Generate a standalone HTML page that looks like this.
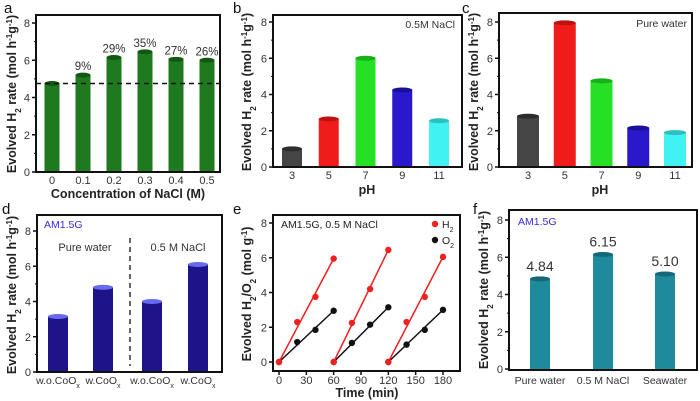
<!DOCTYPE html>
<html><head><meta charset="utf-8"><style>
body{margin:0;background:#fff;}
svg{display:block;font-family:"Liberation Sans",Arial,sans-serif;}
</style></head><body>
<svg id="fig" width="700" height="401" viewBox="0 0 700 401" xmlns="http://www.w3.org/2000/svg"></svg>
<script>
// ---- data ----
const aCats = ["0","0.1","0.2","0.3","0.4","0.5"];
const aVals = [4.75, 5.2, 6.15, 6.45, 6.05, 6.0];
const aPct = ["", "9%", "29%", "35%", "27%", "26%"];
const bCats = ["3","5","7","9","11"];
const bVals = [1.0, 2.65, 6.0, 4.25, 2.55];
const cCats = ["3","5","7","9","11"];
const cVals = [2.8, 7.95, 4.75, 2.15, 1.9];
const dCats = ["w.o.CoO","w.CoO","w.o.CoO","w.CoO"];
const dVals = [3.15, 4.8, 4.0, 6.1];
const fCats = ["Pure water","0.5 M NaCl","Seawater"];
const fVals = [4.84, 6.15, 5.10];
const fLabels = ["4.84","6.15","5.10"];
const eTimes = [0,20,40,60, 60,80,100,120, 120,140,160,180];
const eH2 = [0,2.3,3.75,5.95, 0,2.25,4.2,6.45, 0,2.3,3.75,6.05];
const eO2 = [0,1.15,1.85,2.95, 0,1.1,2.15,3.15, 0,1.0,1.85,3.0];
const yTicks = [0,2,4,6,8];
const eXTicks = [0,30,60,90,120,150,180];

const NS="http://www.w3.org/2000/svg";
const svg=document.getElementById('fig');
function mk(tag,attrs,parent){const e=document.createElementNS(NS,tag);for(const k in attrs)e.setAttribute(k,attrs[k]);(parent||svg).appendChild(e);return e;}
function lin(d0,d1,r0,r1){return v=>r0+(v-d0)*(r1-r0)/(d1-d0);}

function ytitle(g,x,y,gas){
  const t=mk('text',{x:0,y:0,'font-size':12.5,'font-weight':'bold',fill:'#222','text-anchor':'middle',transform:`translate(${x},${y}) rotate(-90)`},g);
  
  
  if(gas){t.innerHTML='Evolved H<tspan baseline-shift="sub" font-size="8">2</tspan>/O<tspan baseline-shift="sub" font-size="8">2</tspan> (mol g<tspan baseline-shift="super" font-size="8">-1</tspan>)';}
  else{t.innerHTML='Evolved H<tspan baseline-shift="sub" font-size="8">2</tspan> rate (mol h<tspan baseline-shift="super" font-size="8">-1</tspan>g<tspan baseline-shift="super" font-size="8">-1</tspan>)';}
}

function frame(g,L,R,T,B,y,name){
  const r=mk('rect',{x:L,y:T,width:R-L,height:B-T,fill:'none',stroke:'#111','stroke-width':2},g);
  
  
  yTicks.forEach(v=>{
    const py=y(v);
    const tk=mk('line',{x1:L-4,x2:L,y1:py,y2:py,stroke:'#111','stroke-width':1.5},g);
    
    
    if(v<8){const m=y(v+1);const mt=mk('line',{x1:L-2,x2:L,y1:m,y2:m,stroke:'#111','stroke-width':1},g);
    
    }
    const tl=mk('text',{x:L-6,y:py+4,'font-size':11,fill:'#333','text-anchor':'end'},g);
    tl.textContent=v;
    
    
  });
}

function cyl(g,cx,w,y,v,body,top,name){
  const y0=y(0),yt=y(v);
  const r=mk('rect',{x:cx-w/2,y:yt,width:w,height:y0-yt,fill:body},g);
  
  
  const e=mk('ellipse',{cx:cx,cy:yt,rx:w/2,ry:2.5,fill:top},g);
  
  
}

function xlabels(g,xs,cats,yy,size,name){
  cats.forEach((c,i)=>{
    const t=mk('text',{x:xs[i],y:yy,'font-size':size,fill:'#333','text-anchor':'middle'},g);
    t.textContent=c;
    
    
  });
}

function plabel(txt,x,y){
  const t=mk('text',{x:x,y:y,'font-size':15,fill:'#111'});
  t.textContent=txt;
  
  
}
function note(g,txt,x,y,size,fill,anchor,name){
  const t=mk('text',{x:x,y:y,'font-size':size,fill:fill,'text-anchor':anchor||'start'},g);
  t.textContent=txt;
  
  
  return t;
}

// ---- panel a ----
(function(){
  const g=mk('g',{});
  const L=36,R=220,T=15,B=172;const y=lin(0,8,172,23);
  const x=i=>52+i*31;
  aVals.forEach((v,i)=>cyl(g,x(i),15,y,v,'#1f7a1f','#0f5a10','bar-a-'+aCats[i]));
  const d=mk('line',{x1:L,x2:R,y1:y(aVals[0]),y2:y(aVals[0]),stroke:'#111','stroke-width':1.5,'stroke-dasharray':'5,4'},g);
  
  aPct.forEach((p,i)=>{if(p)note(g,p,x(i),y(aVals[i])-5,11.5,'#333','middle','percent-label');});
  frame(g,L,R,T,B,y,'panel-a');
  xlabels(g,aCats.map((c,i)=>x(i)),aCats,184,11,'x-tick-label');
  const xt=note(g,'Concentration of NaCl (M)',128,198,12.5,'#222','middle','x-axis-title');xt.setAttribute('font-weight','bold');
  ytitle(g,16,94,false);
  plabel('a',4,13);
})();

// ---- panel b ----
(function(){
  const g=mk('g',{});
  const L=273,R=462,T=15,B=167;const y=lin(0,8,167,22);
  const x=i=>292+i*36.75;
  const cols=[['#454545','#2c2c2c'],['#f01c1c','#c01010'],['#26e026','#18b018'],['#2a18cc','#1a0f99'],['#40f2f2','#2bc0c0']];
  bVals.forEach((v,i)=>cyl(g,x(i),20,y,v,cols[i][0],cols[i][1],'bar-b-ph'+bCats[i]));
  frame(g,L,R,T,B,y,'panel-b');
  xlabels(g,bCats.map((c,i)=>x(i)),bCats,179,11,'x-tick-label');
  const xt=note(g,'pH',367,194,12.5,'#222','middle','x-axis-title');xt.setAttribute('font-weight','bold');
  note(g,'0.5M NaCl',455,28,10.5,'#333','end','condition-label');
  ytitle(g,251,92,false);
  plabel('b',233,13);
})();

// ---- panel c ----
(function(){
  const g=mk('g',{});
  const L=499,R=692,T=13,B=167;const y=lin(0,8,167,22);
  const x=i=>528+i*36.75;
  const cols=[['#454545','#2c2c2c'],['#f01c1c','#c01010'],['#26e026','#18b018'],['#2a18cc','#1a0f99'],['#40f2f2','#2bc0c0']];
  cVals.forEach((v,i)=>cyl(g,x(i),22,y,v,cols[i][0],cols[i][1],'bar-c-ph'+cCats[i]));
  frame(g,L,R,T,B,y,'panel-c');
  xlabels(g,cCats.map((c,i)=>x(i)),cCats,179,11,'x-tick-label');
  const xt=note(g,'pH',600,194,12.5,'#222','middle','x-axis-title');xt.setAttribute('font-weight','bold');
  note(g,'Pure water',687,27,10.5,'#333','end','condition-label');
  ytitle(g,478,92,false);
  plabel('c',462,13);
})();

// ---- panel d ----
(function(){
  const g=mk('g',{});
  const L=37,R=222,T=215,B=372;const y=lin(0,8,372,231);
  const xs=[58,103,152,198];
  dVals.forEach((v,i)=>cyl(g,xs[i],20,y,v,'#1c1488','#6a6af0','bar-d-'+i));
  const d=mk('line',{x1:130,x2:130,y1:238,y2:366,stroke:'#333','stroke-width':1.5,'stroke-dasharray':'5,4'},g);
  
  frame(g,L,R,T,B,y,'panel-d');
  dCats.forEach((c,i)=>{
    const t=mk('text',{x:xs[i],y:384,'font-size':10.5,fill:'#333','text-anchor':'middle'},g);
    t.innerHTML=c+'<tspan baseline-shift="sub" font-size="7">x</tspan>';
    
    
  });
  note(g,'AM1.5G',44,228,10.5,'#3a2ad8','start','illumination-label');
  note(g,'Pure water',85,251,11,'#333','middle','group-label');
  note(g,'0.5 M NaCl',178,251,11,'#333','middle','group-label');
  ytitle(g,16,295,false);
  plabel('d',2,214);
})();

// ---- panel e ----
(function(){
  const g=mk('g',{});
  const L=273,R=460,T=215,B=371;const y=lin(0,8,362,223);const x=lin(0,180,279,443);
  const r=mk('rect',{x:L,y:T,width:R-L,height:B-T,fill:'none',stroke:'#111','stroke-width':2},g);
  
  yTicks.forEach(v=>{
    const tk=mk('line',{x1:L-4,x2:L,y1:y(v),y2:y(v),stroke:'#111','stroke-width':1.5},g);
    
    note(g,String(v),L-6,y(v)+4,11,'#333','end','y-tick-label');
  });
  eXTicks.forEach(v=>{
    const tk=mk('line',{x1:x(v),x2:x(v),y1:B,y2:B+4,stroke:'#111','stroke-width':1.5},g);
    
    note(g,String(v),x(v),384,11,'#333','middle','x-tick-label');
  });
  function series(vals,col,name){
    for(let c=0;c<3;c++){
      const i0=c*4,i1=c*4+3;
      const ln=mk('line',{x1:x(eTimes[i0]),y1:y(vals[i0]),x2:x(eTimes[i1]),y2:y(vals[i1]),stroke:col,'stroke-width':1.5},g);
      
    }
    eTimes.forEach((t,i)=>{
      const p=mk('circle',{cx:x(t),cy:y(vals[i]),r:3.2,fill:col},g);
      
    });
  }
  series(eO2,'#111','o2');
  series(eH2,'#f02020','h2');
  note(g,'AM1.5G, 0.5 M NaCl',281,228,10.5,'#222','start','condition-label');
  const l1=mk('circle',{cx:435,cy:224,r:3.2,fill:'#f02020'},g);
  const t1=note(g,'',442,228,10.5,'#222','start','legend-h2-label');t1.innerHTML='H<tspan baseline-shift="sub" font-size="7">2</tspan>';
  const l2=mk('circle',{cx:435,cy:240,r:3.2,fill:'#111'},g);
  const t2=note(g,'',442,244,10.5,'#222','start','legend-o2-label');t2.innerHTML='O<tspan baseline-shift="sub" font-size="7">2</tspan>';
  const xt=note(g,'Time (min)',367,397,12.5,'#222','middle','x-axis-title');xt.setAttribute('font-weight','bold');
  ytitle(g,251,294,true);
  plabel('e',233,214);
})();

// ---- panel f ----
(function(){
  const g=mk('g',{});
  const L=509,R=697,T=210,B=370;const y=lin(0,8,369,220);
  const xs=[540,603,665];
  fVals.forEach((v,i)=>{cyl(g,xs[i],20,y,v,'#1f8a9c','#15687a','bar-f-'+i);
    note(g,fLabels[i],xs[i],y(v)-8,14,'#333','middle','value-label');});
  frame(g,L,R,T,B,y,'panel-f');
  xlabels(g,xs,fCats,384,10.5,'x-tick-label');
  note(g,'AM1.5G',518,225,10.5,'#3a2ad8','start','illumination-label');
  ytitle(g,488,290,false);
  plabel('f',473,214);
})();
</script>
</body></html>
